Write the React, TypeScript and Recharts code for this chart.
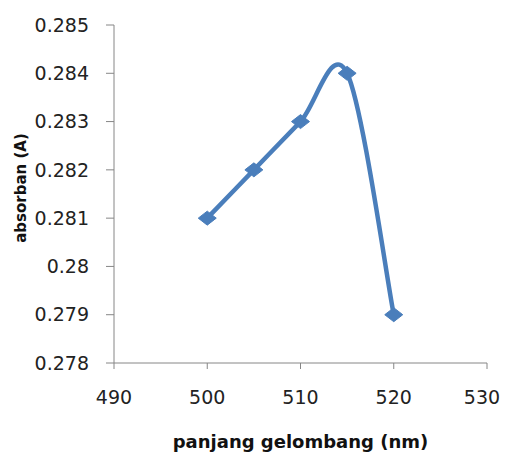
import { LineChart, Line, XAxis, YAxis } from "recharts";

const wavelengths = [500, 505, 510, 515, 520];
const absorbance = [0.281, 0.282, 0.283, 0.284, 0.279];
const xTicks = [490, 500, 510, 520, 530];
const yTicks = [0.278, 0.279, 0.28, 0.281, 0.282, 0.283, 0.284, 0.285];

const data = wavelengths.map((nm, i) => ({ nm, abs: absorbance[i] }));

const blue = "#4a7ebb";
const axisGrey = "#868686";
const font = "'DejaVu Sans', sans-serif";

// Excel-style smoothed line (Catmull-Rom through the points)
function smoothCurve(context: any) {
  let pts: [number, number][] = [];
  return {
    areaStart() {},
    areaEnd() {},
    lineStart() {
      pts = [];
    },
    lineEnd() {
      if (!pts.length) return;
      context.moveTo(pts[0][0], pts[0][1]);
      for (let i = 0; i < pts.length - 1; i++) {
        const p0 = pts[Math.max(i - 1, 0)];
        const p1 = pts[i];
        const p2 = pts[i + 1];
        const p3 = pts[Math.min(i + 2, pts.length - 1)];
        context.bezierCurveTo(
          p1[0] + (p2[0] - p0[0]) / 6,
          p1[1] + (p2[1] - p0[1]) / 6,
          p2[0] - (p3[0] - p1[0]) / 6,
          p2[1] - (p3[1] - p1[1]) / 6,
          p2[0],
          p2[1]
        );
      }
    },
    point(x: number, y: number) {
      pts.push([+x, +y]);
    },
  };
}

const Diamond = (props: any) => {
  const { cx, cy, index } = props;
  if (cx == null || cy == null) return null;
  return (
    <polygon
      key={`d-${index}`}
      points={`${cx - 9},${cy} ${cx},${cy - 7} ${cx + 9},${cy} ${cx},${cy + 7}`}
      fill={blue}
      stroke={blue}
      strokeWidth={1}
    />
  );
};

// last label is nudged inward so it stays inside the frame, like the original
const XTick = (props: any) => {
  const { x, y, payload, index, visibleTicksCount } = props;
  const last = index === (visibleTicksCount ?? xTicks.length) - 1;
  return (
    <text
      x={x - (last ? 5 : 0)}
      y={y}
      dy="0.71em"
      textAnchor="middle"
      fill="#222"
      fontSize={19}
      fontFamily={font}
    >
      {payload.value}
    </text>
  );
};

export default function App() {
  return (
    <>
      <style>{"html,body{overflow:hidden}"}</style>
      <LineChart
        width={500}
        height={445}
        data={data}
        margin={{ top: 17, right: 21, bottom: 0, left: 0 }}
        style={{ background: "#fff" }}
      >
        <XAxis
          dataKey="nm"
          type="number"
          domain={[490, 530]}
          ticks={xTicks}
          height={90}
          stroke={axisGrey}
          tickSize={6}
          tickMargin={22}
          tick={<XTick />}
          label={{
            content: ({ viewBox }: any) => (
              <text
                x={viewBox.x + viewBox.width / 2}
                y={viewBox.y + 85}
                textAnchor="middle"
                fontFamily={font}
                fontWeight="bold"
                fontSize={18}
                fill="#111"
              >
                panjang gelombang (nm)
              </text>
            ),
          }}
        />
        <YAxis
          type="number"
          domain={[0.278, 0.285]}
          ticks={yTicks}
          width={106}
          stroke={axisGrey}
          tickSize={8}
          tickMargin={17}
          tickFormatter={(v: number) => String(parseFloat(v.toFixed(3)))}
          tick={{ fill: "#222", fontSize: 19, fontFamily: font }}
          label={{
            content: ({ viewBox }: any) => {
              const cx = viewBox.x + 13;
              const cy = viewBox.y + viewBox.height / 2 - 6;
              return (
                <text
                  x={cx}
                  y={cy}
                  transform={`rotate(-90, ${cx}, ${cy})`}
                  textAnchor="middle"
                  dominantBaseline="central"
                  fontFamily={font}
                  fontWeight="bold"
                  fontSize={15}
                  fill="#111"
                >
                  absorban (A)
                </text>
              );
            },
          }}
        />
        <Line
          dataKey="abs"
          type={smoothCurve as any}
          stroke={blue}
          strokeWidth={4.5}
          dot={Diamond}
          activeDot={false}
          isAnimationActive={false}
        />
      </LineChart>
    </>
  );
}
